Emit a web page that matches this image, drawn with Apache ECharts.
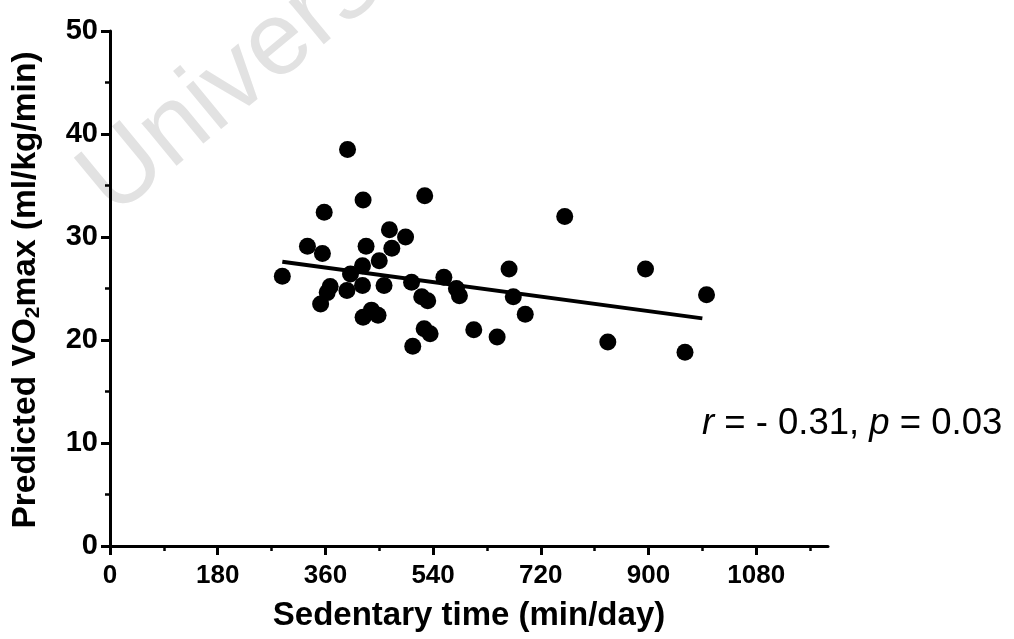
<!DOCTYPE html>
<html>
<head>
<meta charset="utf-8">
<script src="https://cdn.jsdelivr.net/npm/echarts@6/dist/echarts.min.js"></script>
<style>
html,body{margin:0;padding:0;background:#fff;}
#chart{width:1014px;height:639px;}
</style>
</head>
<body>
<div id="chart"></div>
<script>
// Data
const sedentaryTime = [397, 423, 526, 358, 760, 467, 494, 330, 428, 471, 355, 450, 422, 402, 288, 667, 558, 504, 458, 422, 368, 579, 584, 396, 363, 674, 521, 531, 352, 694, 423, 437, 448, 525, 535, 608, 647, 506, 895, 997, 832, 961];
const vo2max        = [38.5, 33.6, 34.0, 32.4, 32.0, 30.7, 30.0, 29.1, 29.1, 28.9, 28.4, 27.7, 27.2, 26.4, 26.2, 26.9, 26.1, 25.6, 25.3, 25.3, 25.2, 25.0, 24.3, 24.8, 24.6, 24.2, 24.2, 23.8, 23.5, 22.5, 22.2, 22.9, 22.4, 21.1, 20.6, 21.0, 20.3, 19.4, 26.9, 24.4, 19.8, 18.8];
const fitX = [288, 990];
const fitY = [27.6, 22.1];
const xMajorTicks = [0, 180, 360, 540, 720, 900, 1080];
const xMinorTicks = [90, 270, 450, 630, 810, 990, 1170];
const xTitle = 'Sedentary time (min/day)';
const yTitleParts = ['Predicted VO', '2', 'max (ml/kg/min)'];
const statText = ['r', ' = - 0.31, ', 'p', ' = 0.03'];
const watermark = 'University of Cape Town';

const FONT = '"Liberation Sans", Arial, Helvetica, sans-serif';
const chart = echarts.init(document.getElementById('chart'));
const points = sedentaryTime.map((x, i) => [x, vo2max[i]]);
const fitLine = fitX.map((x, i) => [x, fitY[i]]);

chart.setOption({
  backgroundColor: '#ffffff',
  animation: false,
  grid: { left: 110, top: 31, width: 718, height: 515, containLabel: false },
  xAxis: [{
    type: 'value', min: 0, max: 1200,
    axisLine: { show: true, onZero: false, lineStyle: { color: '#000', width: 3 } },
    axisTick: { show: true, length: 9, customValues: xMajorTicks, lineStyle: { color: '#000', width: 3 } },
    axisLabel: { customValues: xMajorTicks, margin: 17, color: '#000', fontFamily: FONT, fontWeight: 'bold', fontSize: 26,
      formatter: function (v) { return String(v); } },
    splitLine: { show: false }
  }, {
    type: 'value', min: 0, max: 1200, position: 'bottom',
    axisLine: { show: false },
    axisTick: { show: true, length: 5, customValues: xMinorTicks, lineStyle: { color: '#000', width: 2.5 } },
    axisLabel: { show: false },
    splitLine: { show: false }
  }],
  yAxis: {
    type: 'value', min: 0, max: 50, interval: 10,
    axisLine: { show: true, onZero: false, lineStyle: { color: '#000', width: 3 } },
    axisTick: { show: true, length: 9, lineStyle: { color: '#000', width: 3 } },
    minorTick: { show: true, splitNumber: 2, length: 5, lineStyle: { color: '#000', width: 2.5 } },
    axisLabel: { margin: 12, color: '#000', fontFamily: FONT, fontWeight: 'bold', fontSize: 29 },
    splitLine: { show: false }
  },
  graphic: [
    {
      type: 'text', x: 128, y: 236, rotation: 0.69, z: -10, silent: true,
      style: { text: watermark, font: '104px ' + FONT, fill: '#e2e2e2', align: 'left', verticalAlign: 'bottom' }
    },
    {
      type: 'text', x: 26, y: 290, rotation: Math.PI / 2,
      style: {
        text: '{a|' + yTitleParts[0] + '}{s|' + yTitleParts[1] + '}{a|' + yTitleParts[2] + '}',
        align: 'center', verticalAlign: 'middle',
        rich: {
          a: { fontFamily: FONT, fontWeight: 'bold', fontSize: 33.5, lineHeight: 36, fill: '#000', verticalAlign: 'middle' },
          s: { fontFamily: FONT, fontWeight: 'bold', fontSize: 21, lineHeight: 14, fill: '#000', verticalAlign: 'bottom' }
        }
      }
    },
    {
      type: 'text', x: 469, y: 616,
      style: { text: xTitle, fontFamily: FONT, fontWeight: 'bold', fontSize: 33, fill: '#000', align: 'center', verticalAlign: 'middle' }
    },
    {
      type: 'text', x: 702, y: 424,
      style: {
        text: '{i|' + statText[0] + '}{n|' + statText[1] + '}{i|' + statText[2] + '}{n|' + statText[3] + '}',
        align: 'left', verticalAlign: 'middle',
        rich: {
          i: { fontFamily: FONT, fontStyle: 'italic', fontSize: 36.5, fill: '#000' },
          n: { fontFamily: FONT, fontSize: 36.5, fill: '#000' }
        }
      }
    }
  ],
  series: [
    {
      type: 'line', data: fitLine, showSymbol: false, symbol: 'none',
      lineStyle: { color: '#000', width: 4 }, z: 3
    },
    {
      type: 'scatter', data: points, symbol: 'circle', symbolSize: 17,
      itemStyle: { color: '#000', opacity: 1 }, z: 4
    }
  ]
});
</script>
</body>
</html>
